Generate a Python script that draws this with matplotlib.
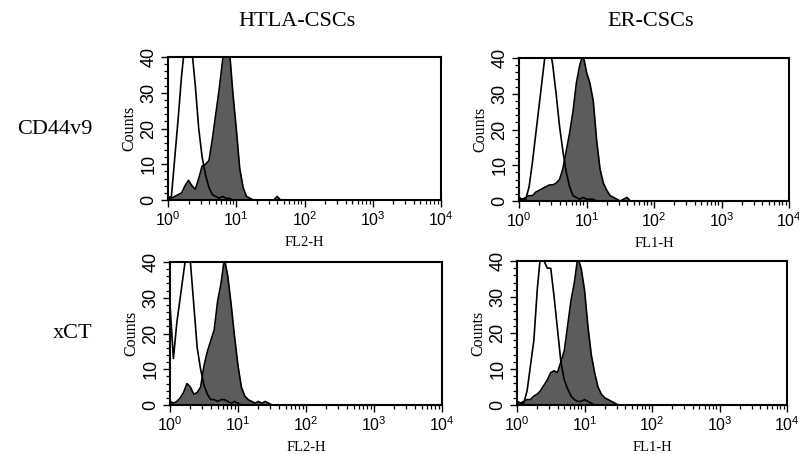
import numpy as np
import matplotlib
matplotlib.use("Agg")
import matplotlib.pyplot as plt
from matplotlib.ticker import MultipleLocator, FixedLocator, FuncFormatter, LogLocator

plt.rcParams['font.family'] = ['Liberation Sans', 'DejaVu Sans']
plt.rcParams['mathtext.fontset'] = 'custom'
plt.rcParams['mathtext.rm'] = 'Liberation Sans'
plt.rcParams['mathtext.it'] = 'Liberation Sans:italic'
plt.rcParams['mathtext.bf'] = 'Liberation Sans:bold'

# ---- data (log10 fluorescence channel centres and counts) ----
log_channels = np.round(np.arange(0, 1.701, 0.05), 2)  # 35 bins, 10^0 .. 10^1.7

col_titles = ["HTLA-CSCs", "ER-CSCs"]
row_labels = ["CD44v9", "xCT"]
x_labels = [["FL2-H", "FL1-H"], ["FL2-H", "FL1-H"]]
y_label = "Counts"
y_ticks = [0, 10, 20, 30, 40]
x_decades = [0, 1, 2, 3, 4]

# CD44v9 / HTLA-CSCs
htla_cd44_isotype = [0, 1, 12, 23, 35, 44, 46, 42, 32, 20, 12, 7, 3.5, 1.5, 1, 0.5, 1, 0.5,
                     0.5, 0, 0, 0, 0, 0, 0, 0, 0, 0, 0, 0, 0, 0, 0, 0, 0]
htla_cd44_stained = [1, 0.5, 1, 1.5, 2, 4, 5.5, 4, 3, 6, 9.5, 10, 11, 17, 24, 31, 39, 46, 42,
                     30, 20, 9, 3.5, 1, 0.5, 0, 0, 0, 0, 0, 0, 0, 1, 0, 0]
# CD44v9 / ER-CSCs
er_cd44_isotype = [0.5, 0.5, 0.5, 4, 11, 19, 27, 35, 43, 44, 38, 30, 21, 14, 8, 4, 1.5, 1,
                   0.5, 1, 0.5, 0.5, 0.5, 0, 0, 0, 0, 0, 0, 0, 0, 0, 0, 0, 0]
er_cd44_stained = [1, 0.5, 1, 1.5, 1.5, 2.5, 3, 3.5, 4, 4.5, 4.5, 5, 6, 9, 14, 19, 25, 33, 38,
                   41, 36, 33, 28, 17, 9, 5, 3, 1.5, 1, 0.5, 0, 0.5, 1, 0, 0]
# xCT / HTLA-CSCs
htla_xct_isotype = [28, 13, 23, 30, 37, 44, 40, 28, 16, 10, 5.5, 3, 1.5, 1.5, 1, 1.5, 1.5, 1,
                    0.5, 1, 0.5, 0, 0, 0, 0, 0, 0, 0, 0, 0, 0, 0, 0, 0, 0]
htla_xct_stained = [1, 0.5, 1, 2, 3.5, 6, 5, 3, 3.5, 5, 11, 15, 18, 21, 29, 34, 41, 36, 28,
                    19, 11, 5, 2.5, 1.5, 1, 0.5, 1, 0.5, 1, 0.5, 0, 0, 0, 0, 0]
# xCT / ER-CSCs
er_xct_isotype = [1, 0.5, 0.5, 4, 11, 18, 32, 42, 40, 38, 38, 30, 21, 12, 7, 4.5, 2.5, 1.5,
                  1, 1, 1.5, 1, 0.5, 0, 0, 0, 0, 0, 0, 0, 0, 0, 0, 0, 0]
er_xct_stained = [1, 0.5, 1, 1.5, 1.5, 2.5, 3, 4, 5.5, 7, 9, 9.5, 9, 12, 15, 22, 29, 34, 41,
                  38, 32, 22, 14, 9, 5, 3, 2, 1.5, 1, 0.5, 0, 0, 0, 0, 0]

panels = [[(htla_cd44_isotype, htla_cd44_stained), (er_cd44_isotype, er_cd44_stained)],
          [(htla_xct_isotype, htla_xct_stained), (er_xct_isotype, er_xct_stained)]]

# ---- figure ----
W, H = 799, 454
fig = plt.figure(figsize=(W / 100, H / 100), dpi=100)

def rect(l, t, r, b):
    return [l / W, 1 - b / H, (r - l) / W, (b - t) / H]

ax_rects = [[rect(168, 57, 441, 200), rect(519, 58, 789, 201)],
            [rect(170, 262, 442, 405), rect(517, 261, 787, 405)]]

fill_color = '#5c5c5c'
serif = ['Liberation Serif', 'DejaVu Serif']

xs = 10 ** log_channels
for r in range(2):
    for c in range(2):
        ax = fig.add_axes(ax_rects[r][c])
        iso, stn = panels[r][c]
        stn = np.array(stn, dtype=float)
        iso = np.array(iso, dtype=float)
        ax.fill_between(xs, 0, stn, color=fill_color, lw=0, zorder=1)
        ax.plot(xs, stn, color='black', lw=1.2, zorder=2)
        ax.plot(xs, iso, color='black', lw=1.2, zorder=3)
        ax.set_xscale('log')
        ax.set_xlim(1, 1e4)
        ax.set_ylim(0, 40)
        ax.xaxis.set_major_locator(FixedLocator([10 ** d for d in x_decades]))
        ax.xaxis.set_minor_locator(LogLocator(base=10, subs=np.arange(2, 10), numticks=20))
        ax.xaxis.set_major_formatter(FuncFormatter(lambda v, p: r'$\mathregular{10^{%d}}$' % int(round(np.log10(v)))))
        ax.xaxis.set_minor_formatter(FuncFormatter(lambda v, p: ''))
        ax.set_yticks(y_ticks)
        ax.yaxis.set_minor_locator(MultipleLocator(2))
        ax.tick_params(axis='both', which='major', direction='out', length=5, width=1.0,
                       labelsize=11.5, pad=2.5)
        ax.tick_params(axis='both', which='minor', direction='out', length=3.2, width=0.9)
        for lab in ax.get_yticklabels():
            lab.set_rotation(90)
            lab.set_va('center')
            lab.set_fontsize(13)
        for sp in ax.spines.values():
            sp.set_linewidth(1.5)
            sp.set_zorder(5)
        ax.set_ylabel(y_label, family=serif, fontsize=11.5)
        ax.yaxis.set_label_coords(-0.114, 0.5)
        ax.set_xlabel(x_labels[r][c], family=serif, fontsize=10.5)
        ax.xaxis.set_label_coords(0.5, -0.25)

fig.text(297 / W, 1 - 22 / H, col_titles[0], family=serif, fontsize=16, ha='center', va='center')
fig.text(651 / W, 1 - 22 / H, col_titles[1], family=serif, fontsize=16, ha='center', va='center')
fig.text(93 / W, 1 - 130 / H, row_labels[0], family=serif, fontsize=16, ha='right', va='center')
fig.text(92 / W, 1 - 333 / H, row_labels[1], family=serif, fontsize=16, ha='right', va='center')

fig.savefig('out.png', dpi=100)
